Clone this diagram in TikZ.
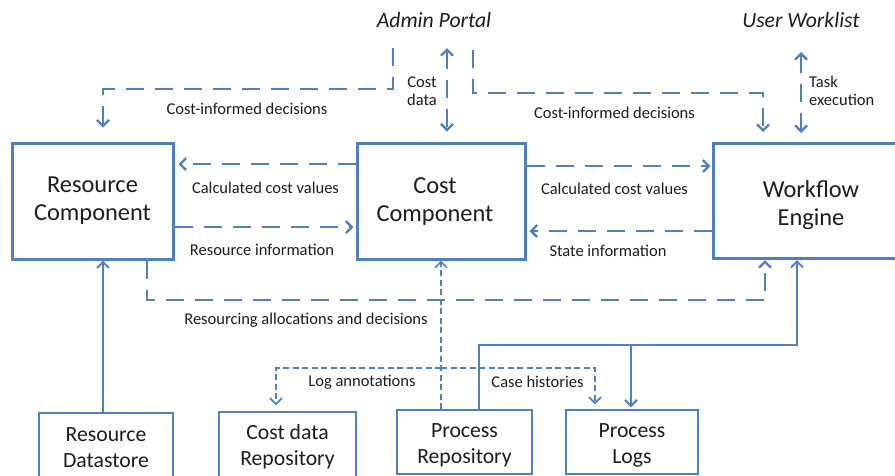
\documentclass[tikz,border=0pt]{standalone}
\usepackage{fontspec}
\setmainfont{Carlito}
\usetikzlibrary{arrows.meta,calc}
\definecolor{bl}{RGB}{79,129,189}
\definecolor{tx}{RGB}{30,30,30}
\begin{document}
\begin{tikzpicture}[x=1pt,y=-1pt,
 bigbox/.style={draw=bl,line width=3pt,inner sep=0pt},
 bigtext/.style={align=center,font=\fontsize{24.4}{28}\selectfont,text=tx,inner sep=0pt},
 smallbox/.style={draw=bl,line width=1.5pt,inner sep=0pt},
 smalltext/.style={align=center,font=\fontsize{21.7}{26}\selectfont,text=tx,inner sep=0pt},
 lbl/.style={font=\fontsize{16.5}{18.5}\selectfont,text=tx,inner sep=0pt,align=center},
 toplbl/.style={font=\itshape\fontsize{21.7}{26}\selectfont,text=tx,inner sep=0pt},
 arr/.style={-{Straight Barb[length=6pt,width=12pt]}},
 darr/.style={{Straight Barb[length=6pt,width=12pt]}-{Straight Barb[length=6pt,width=12pt]}},
 longdash/.style={draw=bl,line width=2.3pt,dash pattern=on 18pt off 11pt},
 finedash/.style={draw=bl,line width=1.7pt,dash pattern=on 6pt off 3.5pt},
 solidline/.style={draw=bl,line width=2pt},
]
\clip (0,0) rectangle (895,475);
\fill[white] (0,0) rectangle (895,475);

% main boxes
\node[bigbox,minimum width=161pt,minimum height=116pt] (res) at (92.5,201) {};
\node[bigtext] (res-t) at (92.5,201) {Resource\\Component};
\node[bigbox,minimum width=168pt,minimum height=116pt] (cost) at (441,201) {};
\node[bigtext] (cost-t) at (435,202) {Cost\\Component};
\node[bigbox,minimum width=194pt,minimum height=115pt] (we) at (810,201) {};
\node[bigtext] (we-t) at (811,205) {Workflow\\Engine};

% bottom boxes
\node[smallbox,minimum width=134pt,minimum height=66pt] (rds) at (106,446) {};
\node[smalltext] (rds-t) at (106,448) {Resource\\Datastore};
\node[smallbox,minimum width=137pt,minimum height=66pt] (cdr) at (287.5,445) {};
\node[smalltext] (cdr-t) at (287.5,447) {Cost data\\Repository};
\node[smallbox,minimum width=135pt,minimum height=64pt] (prepo) at (464.5,442) {};
\node[smalltext] (prepo-t) at (464.5,445) {Process\\Repository};
\node[smallbox,minimum width=132pt,minimum height=64pt] (plogs) at (632,442) {};
\node[smalltext] (plogs-t) at (632,445) {Process\\Logs};

% top labels
\node[toplbl] (admin) at (434,20) {Admin Portal};
\node[toplbl] (worklist) at (801,20) {User Worklist};

% helper coordinates
\coordinate (ap1) at (393,48);
\coordinate (ap2) at (473,50);
\coordinate (cd1) at (447,48);
\coordinate (te1) at (801,52);
\coordinate (xres) at (103,0);
\coordinate (xwe1) at (763,0);
\coordinate (xwe2) at (765,0);
\coordinate (xwe3) at (797,0);
\coordinate (xr) at (147,0);
\coordinate (xd) at (441,0);
\coordinate (xcd) at (276,0);
\coordinate (xch) at (595,0);
\coordinate (xpr) at (479,0);
\coordinate (xpl) at (631,0);

% Admin portal -> Resource component
\draw[longdash,arr,shorten >=14pt] (ap1) |- (200,89) -| (xres |- res.north);
\node[lbl] (l1) at (247,109) {Cost-informed decisions};

% Cost data
\draw[longdash,darr,shorten >=10pt] (cd1) -- (cd1 |- cost.north);
\node[lbl] (l2) at (422,91) {Cost\\data};

% Admin portal -> Workflow engine
\draw[longdash,arr,shorten >=10pt] (ap2) |- (600,93) -| (xwe1 |- we.north);
\node[lbl] (l3) at (614.5,113) {Cost-informed decisions};

% Task execution
\draw[longdash,darr,shorten >=9pt] (te1) -- (te1 |- we.north);
\node[lbl,anchor=west,align=left] (l4) at (809,91) {Task\\execution};

% Cost <-> Resource
\draw[longdash,arr,shorten >=4pt] ($(cost.west)+(0,-37)$) -- ($(res.east)+(0,-37)$);
\node[lbl] (l5) at (265.5,188) {Calculated cost values};
\draw[longdash,arr,shorten >=2pt] ($(res.east)+(0,26)$) -- ($(cost.west)+(0,26)$);
\node[lbl] (l6) at (262,250) {Resource information};

% Cost <-> Workflow engine
\draw[longdash,arr,shorten >=1pt] ($(cost.east)+(0,-35)$) -- ($(we.west)+(0,-35)$);
\node[lbl] (l7) at (614.5,189) {Calculated cost values};
\draw[longdash,arr,shorten >=3pt] ($(we.west)+(0,30)$) -- ($(cost.east)+(0,30)$);
\node[lbl] (l8) at (608,251) {State information};

% Resource -> Workflow engine
\draw[longdash,arr] (xr |- res.south) |- (400,300) -| (xwe2 |- we.south);
\node[lbl] (l9) at (306,320) {Resourcing allocations and decisions};

% Datastore -> Resource
\draw[solidline,arr] (xres |- rds.north) -- (xres |- res.south);

% Process repository -> Cost component (dotted)
\draw[finedash,arr] (xd |- prepo.north) -- (xd |- cost.south);
\draw[finedash,arr,shorten >=6pt] (441,368) -| (xcd |- cdr.north);
\node[lbl] (l10) at (362,382) {Log annotations};
\draw[finedash,arr,shorten >=5pt] (441,368) -| (xch |- plogs.north);
\node[lbl] (l11) at (537.5,382) {Case histories};

% Process repository -> Workflow engine, Process logs
\draw[solidline,arr] (xpr |- prepo.north) |- (700,345) -| (xwe3 |- we.south);
\draw[solidline,arr,shorten >=2pt] (631,345) -- (xpl |- plogs.north);
\end{tikzpicture}
\end{document}
